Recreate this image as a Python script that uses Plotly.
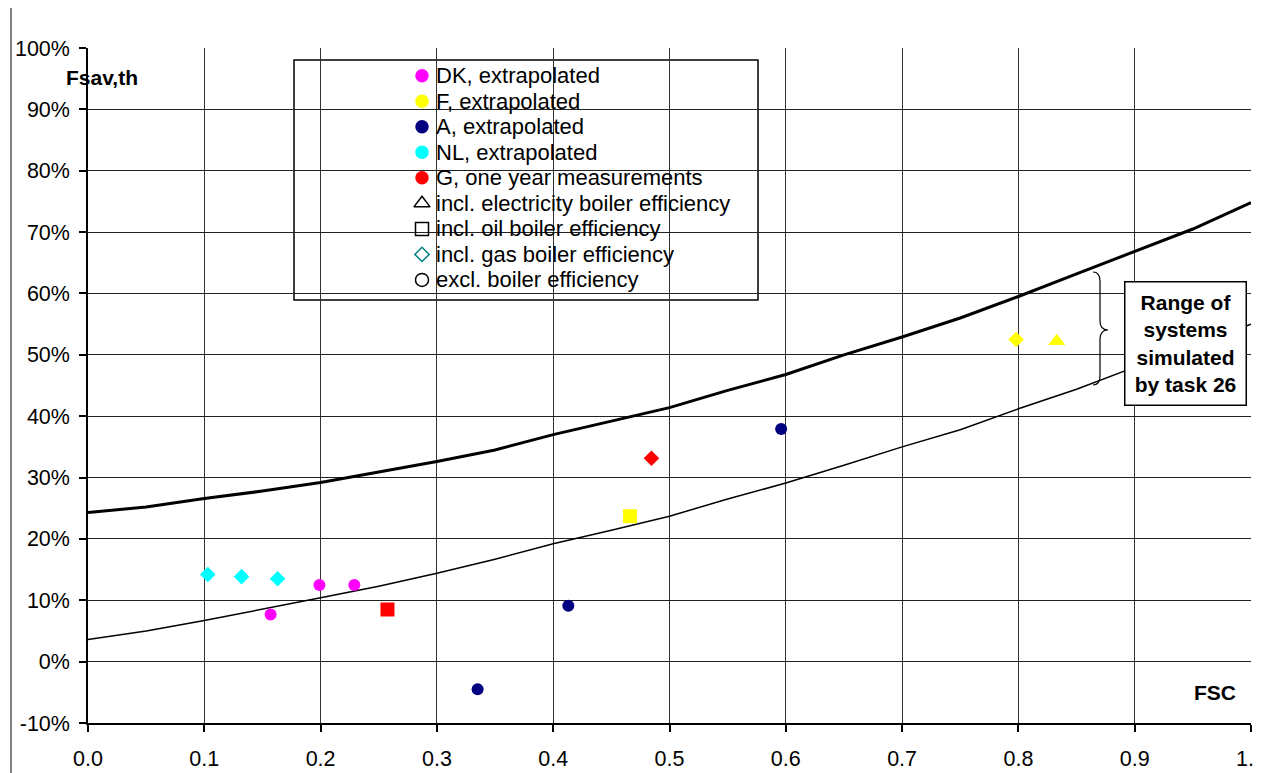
import plotly.graph_objects as go

FONT = "Liberation Sans, Arial, sans-serif"

# ---- data ----
fsc_curve = [0.0, 0.05, 0.1, 0.15, 0.2, 0.25, 0.3, 0.35, 0.4, 0.45, 0.5,
             0.55, 0.6, 0.65, 0.7, 0.75, 0.8, 0.85, 0.9, 0.95, 1.0]
upper_curve = [24.3, 25.2, 26.6, 27.8, 29.2, 30.9, 32.6, 34.5, 37.0, 39.2, 41.4,
               44.2, 46.8, 50.0, 52.9, 56.0, 59.5, 63.2, 66.9, 70.5, 74.8]
lower_curve = [3.6, 5.0, 6.7, 8.5, 10.4, 12.3, 14.4, 16.7, 19.2, 21.4, 23.7,
               26.5, 29.1, 32.0, 35.0, 37.8, 41.2, 44.4, 48.0, 51.4, 55.0]

dk_x = [0.157, 0.199, 0.229]
dk_y = [7.7, 12.5, 12.5]
nl_x = [0.103, 0.132, 0.163]
nl_y = [14.2, 13.85, 13.5]
a_x = [0.335, 0.413, 0.596]
a_y = [-4.5, 9.1, 37.9]
f_x = [0.466, 0.798, 0.833]
f_y = [23.7, 52.5, 52.2]
f_sym = ["square", "diamond", "triangle-up"]
g_x = [0.2575, 0.4845]
g_y = [8.5, 33.15]
g_sym = ["square", "diamond"]

x_ticks = [0.0, 0.1, 0.2, 0.3, 0.4, 0.5, 0.6, 0.7, 0.8, 0.9, 1.0]
x_ticktext = ["0.0", "0.1", "0.2", "0.3", "0.4", "0.5", "0.6", "0.7", "0.8", "0.9", "1.0"]
y_ticks = [-10, 0, 10, 20, 30, 40, 50, 60, 70, 80, 90, 100]
y_ticktext = ["-10%", "0%", "10%", "20%", "30%", "40%", "50%", "60%", "70%", "80%", "90%", "100%"]

legend_labels = ["DK, extrapolated", "F, extrapolated", "A, extrapolated", "NL, extrapolated",
                 "G, one year measurements", "incl. electricity boiler efficiency",
                 "incl. oil boiler efficiency", "incl. gas boiler efficiency",
                 "excl. boiler efficiency"]
legend_symbols = ["circle", "circle", "circle", "circle", "circle",
                  "triangle-up-open", "square-open", "diamond-open", "circle-open"]
legend_colors = ["#FF00FF", "#FFFF00", "#000080", "#00FFFF", "#FF0000",
                 "black", "black", "#008080", "black"]
legend_sizes = [12, 12, 12, 12, 12, 14, 13, 11, 13]

sym_size = {"circle": 12, "square": 14, "diamond": 12, "triangle-up": 15}

# ---- layout geometry (window pixels; page body has an 8px margin) ----
WIN_W, WIN_H = 1262, 773
OX, OY = 8, 8
W, H = WIN_W - OX, WIN_H - OY
L, R, T, B = 88, 1251, 48, 723          # plot area edges in window pixels
PW, PH = R - L, B - T
X0, X1, Y0, Y1 = 0.0, 1.0, -10.0, 100.0


def px_to_x(px):
    return X0 + (px - L) / PW * (X1 - X0)


def py_to_y(py):
    return Y1 - (py - T) / PH * (Y1 - Y0)


def px_to_paper(px):
    return (px - L) / PW


def py_to_paper(py):
    return (B - py) / PH


fig = go.Figure()

fig.add_trace(go.Scatter(x=fsc_curve, y=upper_curve, mode="lines",
                         line=dict(color="black", width=3), showlegend=False, hoverinfo="skip"))
fig.add_trace(go.Scatter(x=fsc_curve, y=lower_curve, mode="lines",
                         line=dict(color="black", width=1.5), showlegend=False, hoverinfo="skip"))

mk = dict(opacity=1, line=dict(width=0))
fig.add_trace(go.Scatter(x=dk_x, y=dk_y, mode="markers", showlegend=False,
                         marker=dict(symbol="circle", size=12, color="#FF00FF", **mk)))
fig.add_trace(go.Scatter(x=nl_x, y=nl_y, mode="markers", showlegend=False,
                         marker=dict(symbol="diamond", size=12, color="#00FFFF", **mk)))
fig.add_trace(go.Scatter(x=a_x, y=a_y, mode="markers", showlegend=False,
                         marker=dict(symbol="circle", size=12, color="#000080", **mk)))
fig.add_trace(go.Scatter(x=f_x, y=f_y, mode="markers", showlegend=False,
                         marker=dict(symbol=f_sym, size=[sym_size[s] for s in f_sym], color="#FFFF00", **mk)))
fig.add_trace(go.Scatter(x=g_x, y=g_y, mode="markers", showlegend=False,
                         marker=dict(symbol=g_sym, size=[sym_size[s] for s in g_sym], color="#FF0000", **mk)))

# legend (drawn inside a box, like the original)
row0, row_step = 75.7, 25.53
leg_mx, leg_tx = 422, 434
rows_y = [py_to_y(row0 + k * row_step) for k in range(len(legend_labels))]
fig.add_trace(go.Scatter(
    x=[px_to_x(leg_mx)] * len(legend_labels), y=rows_y, mode="markers", showlegend=False,
    hoverinfo="skip",
    marker=dict(symbol=legend_symbols, size=legend_sizes, color=legend_colors,
                line=dict(width=1.5, color=legend_colors), opacity=1)))

annotations = []
for lab, yy in zip(legend_labels, rows_y):
    annotations.append(dict(text=lab, xref="x", yref="y", x=px_to_x(leg_tx), y=yy,
                            xanchor="left", yanchor="middle", showarrow=False,
                            font=dict(size=22)))

# brace (data coordinates)
bx0, bx1, bx2 = px_to_x(1093), px_to_x(1100), px_to_x(1108)
by_top, by_mid, by_bot = py_to_y(272), py_to_y(330), py_to_y(385)
d = 1.5
brace = (f"M {bx0},{by_top} Q {bx1},{by_top} {bx1},{by_top-d} L {bx1},{by_mid+d} "
         f"Q {bx1},{by_mid} {bx2},{by_mid} Q {bx1},{by_mid} {bx1},{by_mid-d} "
         f"L {bx1},{by_bot+d} Q {bx1},{by_bot} {bx0},{by_bot}")

annotations += [
    dict(text="<b>Fsav,th</b>", xref="paper", yref="paper", x=px_to_paper(64), y=py_to_paper(77),
         xanchor="left", yanchor="middle", showarrow=False, font=dict(size=21)),
    dict(text="<b>FSC</b>", xref="paper", yref="paper", x=px_to_paper(1238), y=py_to_paper(692),
         xanchor="right", yanchor="middle", showarrow=False, font=dict(size=21)),
    dict(text="<b>Range of<br>systems<br>simulated<br>by task 26</b>", xref="x", yref="y",
         x=px_to_x(1185.5), y=py_to_y(343.5), xanchor="center", yanchor="middle", showarrow=False,
         bgcolor="white", bordercolor="black", borderwidth=1.5, borderpad=7,
         width=106, height=108, font=dict(size=21)),
]

fig.update_layout(
    width=W, height=H,
    margin=dict(l=L - OX, r=WIN_W - R, t=T - OY, b=WIN_H - B, autoexpand=False),
    paper_bgcolor="white", plot_bgcolor="white",
    font=dict(family=FONT, size=21, color="black"),
    showlegend=False,
    xaxis=dict(range=[X0, X1], tickvals=x_ticks, ticktext=x_ticktext,
               showgrid=True, gridcolor="#333333", gridwidth=1,
               showline=True, linecolor="black", linewidth=1.5,
               ticks="outside", ticklen=7, tickcolor="black", tickwidth=1.5,
               ticklabelstandoff=8, zeroline=False, automargin=False,
               ticklabeloverflow="allow",
               tickfont=dict(family=FONT, size=21.5)),
    yaxis=dict(range=[Y0, Y1], tickvals=y_ticks, ticktext=y_ticktext,
               showgrid=True, gridcolor="#222222", gridwidth=1,
               showline=True, linecolor="black", linewidth=1.5,
               ticks="outside", ticklen=7, tickcolor="black", tickwidth=1.5,
               ticklabelstandoff=5, zeroline=False, automargin=False,
               ticklabeloverflow="allow",
               tickfont=dict(family=FONT, size=21.5)),
    shapes=[
        dict(type="rect", xref="paper", yref="paper",
             x0=px_to_paper(294), x1=px_to_paper(758), y0=py_to_paper(300), y1=py_to_paper(60),
             line=dict(color="black", width=1.5), fillcolor="white", layer="between"),
        dict(type="path", xref="x", yref="y", path=brace, line=dict(color="black", width=1.2)),
        dict(type="line", xref="paper", yref="paper", x0=px_to_paper(11), x1=px_to_paper(11),
             y0=py_to_paper(WIN_H + 5), y1=py_to_paper(-5), line=dict(color="black", width=1)),
    ],
    annotations=annotations,
)

fig.write_html("out.html")
